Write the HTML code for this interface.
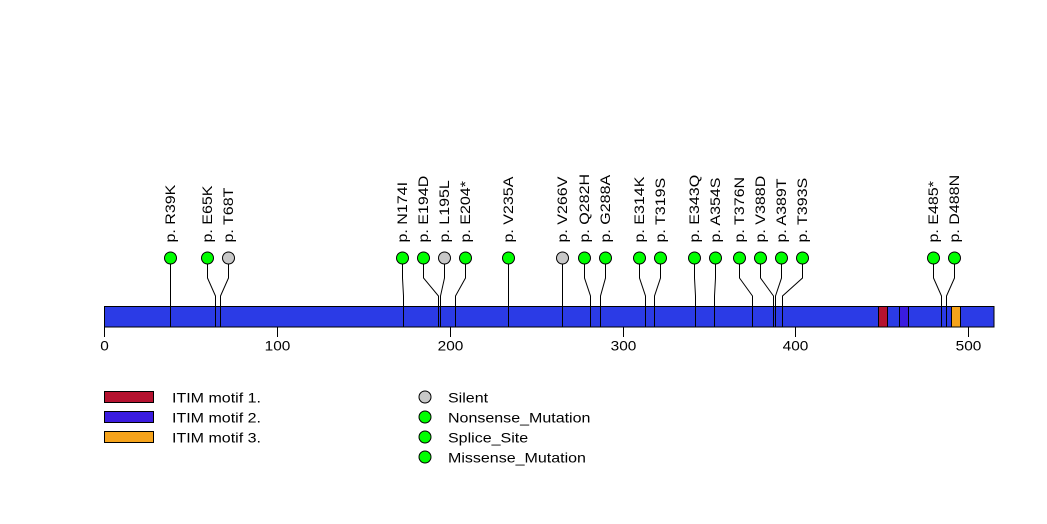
<!DOCTYPE html>
<html><head><meta charset="utf-8"><style>
html,body{margin:0;padding:0;background:#fff;}
svg{display:block;}
text{font-family:"Liberation Sans",Arial,sans-serif;font-size:14px;fill:#000;}
</style></head><body>
<svg width="1047" height="524" viewBox="0 0 1047 524" xmlns="http://www.w3.org/2000/svg">
<rect x="0" y="0" width="1047" height="524" fill="#fff"/>
<!-- bar -->
<rect x="104.5" y="306.5" width="889.5" height="20.5" fill="#2b3be6" stroke="#000" stroke-width="1"/>
<rect x="878.5" y="306.5" width="9" height="20.5" fill="#b5122f" stroke="#000" stroke-width="1"/>
<rect x="899.5" y="306.5" width="9" height="20.5" fill="#3a1ce0" stroke="#000" stroke-width="1"/>
<rect x="951.5" y="306.5" width="9" height="20.5" fill="#f5a31b" stroke="#000" stroke-width="1"/>
<!-- ticks -->
<g stroke="#000" stroke-width="1">
<line x1="104.5" y1="327" x2="104.5" y2="337"/>
<line x1="277.5" y1="327" x2="277.5" y2="337"/>
<line x1="450.5" y1="327" x2="450.5" y2="337"/>
<line x1="623.5" y1="327" x2="623.5" y2="337"/>
<line x1="795.5" y1="327" x2="795.5" y2="337"/>
<line x1="968.5" y1="327" x2="968.5" y2="337"/>
</g>
<g text-anchor="middle" style="font-size:15px">
<text transform="translate(104.5,350.5) scale(1.1,1)">0</text>
<text transform="translate(277.5,350.5) scale(1.1,1)">100</text>
<text transform="translate(450.5,350.5) scale(1.1,1)">200</text>
<text transform="translate(623.5,350.5) scale(1.1,1)">300</text>
<text transform="translate(795.5,350.5) scale(1.1,1)">400</text>
<text transform="translate(968.5,350.5) scale(1.1,1)">500</text>
</g>
<!-- stems -->
<g fill="none" stroke="#000" stroke-width="1">
<path d="M170.5 258 V278 L170.5 296 V327"/>
<path d="M207.5 258 V278 L215.5 296 V327"/>
<path d="M228.5 258 V278 L220.5 296 V327"/>
<path d="M402.5 258 V278 L403.5 296 V327"/>
<path d="M423.5 258 V278 L438.5 296 V327"/>
<path d="M444.5 258 V278 L440.5 296 V327"/>
<path d="M465.5 258 V278 L455.5 296 V327"/>
<path d="M508.5 258 V278 L508.5 296 V327"/>
<path d="M562.5 258 V278 L562.5 296 V327"/>
<path d="M584.5 258 V278 L590.5 296 V327"/>
<path d="M605.5 258 V278 L600.5 296 V327"/>
<path d="M639.5 258 V278 L645.5 296 V327"/>
<path d="M660.5 258 V278 L654.5 296 V327"/>
<path d="M694.5 258 V278 L695.5 296 V327"/>
<path d="M715.5 258 V278 L714.5 296 V327"/>
<path d="M739.5 258 V278 L752.5 296 V327"/>
<path d="M760.5 258 V278 L773.5 296 V327"/>
<path d="M781.5 258 V278 L775.5 296 V327"/>
<path d="M802.5 258 V278 L782.5 296 V327"/>
<path d="M933.5 258 V278 L941.5 296 V327"/>
<path d="M954.5 258 V278 L946.5 296 V327"/>
</g>
<!-- circles -->
<g stroke="#000" stroke-width="1">
<circle cx="170.5" cy="258" r="6" fill="#00ff00"/>
<circle cx="207.5" cy="258" r="6" fill="#00ff00"/>
<circle cx="228.5" cy="258" r="6" fill="#c8c8c8"/>
<circle cx="402.5" cy="258" r="6" fill="#00ff00"/>
<circle cx="423.5" cy="258" r="6" fill="#00ff00"/>
<circle cx="444.5" cy="258" r="6" fill="#c8c8c8"/>
<circle cx="465.5" cy="258" r="6" fill="#00ff00"/>
<circle cx="508.5" cy="258" r="6" fill="#00ff00"/>
<circle cx="562.5" cy="258" r="6" fill="#c8c8c8"/>
<circle cx="584.5" cy="258" r="6" fill="#00ff00"/>
<circle cx="605.5" cy="258" r="6" fill="#00ff00"/>
<circle cx="639.5" cy="258" r="6" fill="#00ff00"/>
<circle cx="660.5" cy="258" r="6" fill="#00ff00"/>
<circle cx="694.5" cy="258" r="6" fill="#00ff00"/>
<circle cx="715.5" cy="258" r="6" fill="#00ff00"/>
<circle cx="739.5" cy="258" r="6" fill="#00ff00"/>
<circle cx="760.5" cy="258" r="6" fill="#00ff00"/>
<circle cx="781.5" cy="258" r="6" fill="#00ff00"/>
<circle cx="802.5" cy="258" r="6" fill="#00ff00"/>
<circle cx="933.5" cy="258" r="6" fill="#00ff00"/>
<circle cx="954.5" cy="258" r="6" fill="#00ff00"/>
</g>
<!-- labels -->
<g>
<text transform="translate(175,242.5) rotate(-90) scale(1.145,1)">p. R39K</text>
<text transform="translate(212,242.5) rotate(-90) scale(1.145,1)">p. E65K</text>
<text transform="translate(233,242.5) rotate(-90) scale(1.145,1)">p. T68T</text>
<text transform="translate(407,242.5) rotate(-90) scale(1.145,1)">p. N174I</text>
<text transform="translate(428,242.5) rotate(-90) scale(1.145,1)">p. E194D</text>
<text transform="translate(449,242.5) rotate(-90) scale(1.145,1)">p. L195L</text>
<text transform="translate(470,242.5) rotate(-90) scale(1.145,1)">p. E204*</text>
<text transform="translate(513,242.5) rotate(-90) scale(1.145,1)">p. V235A</text>
<text transform="translate(567,242.5) rotate(-90) scale(1.145,1)">p. V266V</text>
<text transform="translate(589,242.5) rotate(-90) scale(1.145,1)">p. Q282H</text>
<text transform="translate(610,242.5) rotate(-90) scale(1.145,1)">p. G288A</text>
<text transform="translate(644,242.5) rotate(-90) scale(1.145,1)">p. E314K</text>
<text transform="translate(665,242.5) rotate(-90) scale(1.145,1)">p. T319S</text>
<text transform="translate(699,242.5) rotate(-90) scale(1.145,1)">p. E343Q</text>
<text transform="translate(720,242.5) rotate(-90) scale(1.145,1)">p. A354S</text>
<text transform="translate(744,242.5) rotate(-90) scale(1.145,1)">p. T376N</text>
<text transform="translate(765,242.5) rotate(-90) scale(1.145,1)">p. V388D</text>
<text transform="translate(786,242.5) rotate(-90) scale(1.145,1)">p. A389T</text>
<text transform="translate(807,242.5) rotate(-90) scale(1.145,1)">p. T393S</text>
<text transform="translate(938,242.5) rotate(-90) scale(1.145,1)">p. E485*</text>
<text transform="translate(959,242.5) rotate(-90) scale(1.145,1)">p. D488N</text>
</g>
<!-- legend domains -->
<rect x="104.5" y="391.5" width="49" height="11" fill="#b5122f" stroke="#000" stroke-width="1"/>
<rect x="104.5" y="411.5" width="49" height="11" fill="#3a1ce0" stroke="#000" stroke-width="1"/>
<rect x="104.5" y="431.5" width="49" height="11" fill="#f5a31b" stroke="#000" stroke-width="1"/>
<text transform="translate(172,402.5) scale(1.145,1)">ITIM motif 1.</text>
<text transform="translate(172,422.5) scale(1.145,1)">ITIM motif 2.</text>
<text transform="translate(172,442.5) scale(1.145,1)">ITIM motif 3.</text>
<!-- legend mutation types -->
<g stroke="#000" stroke-width="1">
<circle cx="425" cy="397" r="6" fill="#c8c8c8"/>
<circle cx="425" cy="417" r="6" fill="#00ff00"/>
<circle cx="425" cy="437" r="6" fill="#00ff00"/>
<circle cx="425" cy="457" r="6" fill="#00ff00"/>
</g>
<text transform="translate(448,402.5) scale(1.145,1)">Silent</text>
<text transform="translate(448,422.5) scale(1.145,1)">Nonsense_Mutation</text>
<text transform="translate(448,442.5) scale(1.145,1)">Splice_Site</text>
<text transform="translate(448,462.5) scale(1.145,1)">Missense_Mutation</text>
</svg>
</body></html>
